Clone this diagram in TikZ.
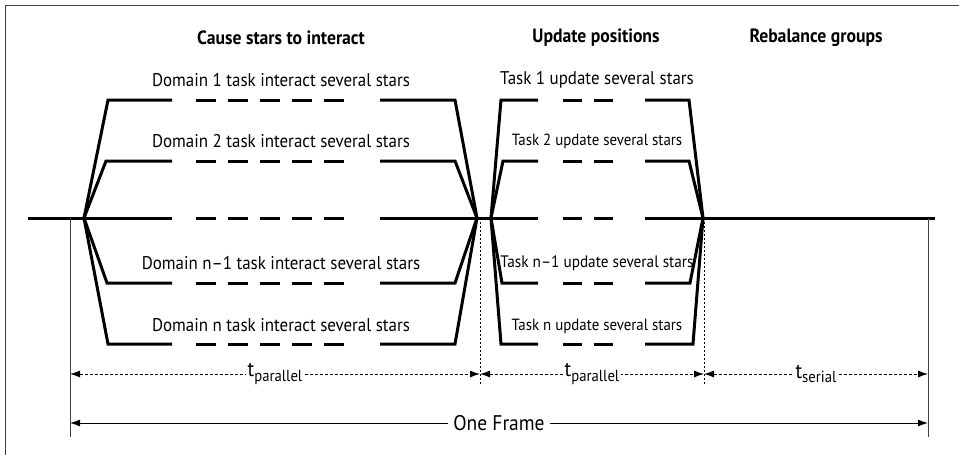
\documentclass[tikz,border=0pt]{standalone}
\usepackage{fontspec}
\setmainfont{PT Sans}[FakeStretch=0.92]
\usetikzlibrary{arrows.meta}
\tikzset{lbl/.style={draw=none, inner sep=1pt, font=\fontsize{9.2}{10}\selectfont},
  slbl/.style={lbl, font=\fontsize{8.1}{9}\selectfont},
  mlbl/.style={lbl, font=\fontsize{8.3}{9}\selectfont},
  ttl/.style={lbl, font=\bfseries\fontsize{9.6}{11}\selectfont},
  tlbl/.style={lbl, font=\fontsize{10.6}{12}\selectfont}}
\newcommand{\sub}[1]{\raisebox{-2.2pt}{\fontsize{8}{9}\selectfont #1}}

\begin{document}
\begin{tikzpicture}[x=0.5pt, y=-0.5pt, >={Latex[length=5pt, width=3.5pt]},
  bar/.style={line width=1.5pt, line join=miter},
  cdash/.style={bar, dash pattern=on 9.75pt off 6.25pt},
  udash/.style={bar, dash pattern=on 9.5pt off 6pt},
  tick/.style={line width=0.5pt, black!75},
  guide/.style={line width=0.5pt, dash pattern=on 1pt off 1pt},
  dimline/.style={line width=0.5pt, dash pattern=on 1.5pt off 1pt}]
  \useasboundingbox (0,0) rectangle (959,455);
  % frame, only top and left edge show
  \draw[tick] (5,470) -- (5,5) -- (970,5);
  % titles
  \node[ttl] (tc) at (281,38) {Cause stars to interact};
  \node[ttl] (tu) at (596,38) {Update positions};
  \node[ttl] (tr) at (816,38) {Rebalance groups};
  % time axis
  \coordinate (a0) at (28,218);
  \coordinate (a1) at (935,218);
  \coordinate (cs) at (84,218);
  \coordinate (ce) at (477,218);
  \coordinate (us) at (491,218);
  \coordinate (ue) at (703,218);
  \draw[bar] (a0) -- (172,218);
  \draw[cdash] (196,218) -- (345,218);
  \draw[bar] (380,218) -- (538,218);
  \draw[udash] (563,218) -- (615,218);
  \draw[bar] (645,218) -- (a1);
  % domain tasks
  \foreach \yy/\xl in {100/108, 161/106, 283/107, 344/108} {
    \draw[bar] (cs) -- (\xl,\yy) -- (172,\yy);
    \draw[cdash] (196,\yy) -- (345,\yy);
    \draw[bar] (380,\yy) -- (455,\yy) -- (ce);
  }
  \node[lbl] (d1) at (281,80)  {Domain 1 task interact several stars};
  \node[lbl] (d2) at (281,141) {Domain 2 task interact several stars};
  \node[lbl] (dm) at (281,263) {Domain n--1 task interact several stars};
  \node[lbl] (dn) at (281,325) {Domain n task interact several stars};
  % update tasks
  \foreach \yy/\xl/\xr in {100/501/689, 161/503/689, 283/502/690, 344/501/693} {
    \draw[bar] (us) -- (\xl,\yy) -- (538,\yy);
    \draw[udash] (563,\yy) -- (615,\yy);
    \draw[bar] (645,\yy) -- (\xr,\yy) -- (ue);
  }
  \node[lbl]  (u1) at (597,80)  {Task 1 update several stars};
  \node[slbl] (u2) at (597,141) {Task 2 update several stars};
  \node[mlbl] (um) at (597,263) {Task n--1 update several stars};
  \node[slbl] (un) at (597,326) {Task n update several stars};
  % guides
  \coordinate (g1t) at (480,218);  \coordinate (g1b) at (480,385);
  \coordinate (g2t) at (704,218);  \coordinate (g2b) at (704,385);
  \coordinate (f0t) at (70,218);   \coordinate (f0b) at (70,437);
  \coordinate (f1t) at (928,218);  \coordinate (f1b) at (928,437);
  \draw[guide] (g1t) -- (g1b);
  \draw[guide] (g2t) -- (g2b);
  \draw[tick] (f0t) -- (f0b);
  \draw[tick] (f1t) -- (f1b);
  % durations
  \coordinate (p0) at (70,374);  \coordinate (p1) at (480,374);
  \coordinate (p2) at (704,374); \coordinate (p3) at (928,374);
  \draw[dimline, <->] (p0) -- node[tlbl, fill=white] {t\sub{parallel}} (p1);
  \draw[dimline, <->] (p1) -- node[tlbl, fill=white] {t\sub{parallel}} (p2);
  \draw[dimline, <->] (p2) -- node[tlbl, fill=white] {t\sub{serial}} (p3);
  \coordinate (o0) at (70,423);  \coordinate (o1) at (928,423);
  \draw[tick, black, <->] (o0) -- node[tlbl, fill=white, inner xsep=2.5pt] {One Frame} (o1);
\end{tikzpicture}
\end{document}
